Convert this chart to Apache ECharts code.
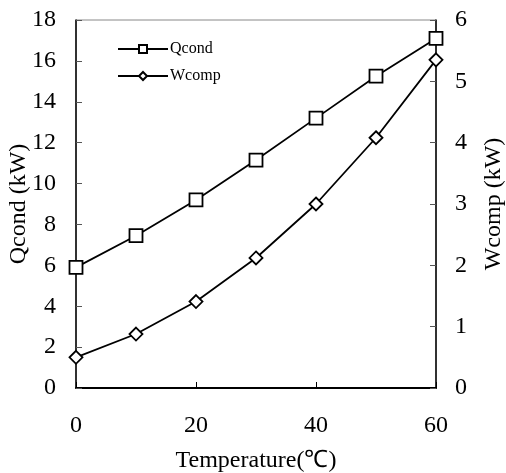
<!DOCTYPE html>
<html><head><meta charset="utf-8">
<script src="https://cdn.jsdelivr.net/npm/echarts@6/dist/echarts.min.js"></script>
<style>html,body{margin:0;padding:0;background:#fff}#c{width:506px;height:473px}</style>
</head><body><div id="c"></div>
<script>
const temps = [0, 10, 20, 30, 40, 50, 60];
const qcond = [5.9, 7.45, 9.2, 11.15, 13.2, 15.25, 17.1];
const wcomp = [0.5, 0.88, 1.41, 2.12, 3.0, 4.08, 5.35];
const seriesNames = ['Qcond', 'Wcomp'];
const font = 'Liberation Serif';
const chart = echarts.init(document.getElementById('c'), null, {renderer: 'canvas'});
chart.setOption({
  animation: false,
  backgroundColor: '#fff',
  grid: {left: 76, right: 70, top: 20, bottom: 85, show: true, borderColor: '#888', borderWidth: 1,
         containLabel: false, outerBoundsMode: 'none'},
  legend: {
    left: 112, top: 36, orient: 'vertical', itemWidth: 50, itemHeight: 10, itemGap: 11,
    data: seriesNames,
    textStyle: {fontFamily: font, fontSize: 16, color: '#000', padding: [0, 0, 0, -3]}
  },
  xAxis: {
    type: 'value', min: 0, max: 60, interval: 20,
    name: 'Temperature(℃)', nameLocation: 'middle', nameGap: 61, nameMoveOverlap: false,
    nameTextStyle: {fontFamily: font, fontSize: 24, color: '#000'},
    axisLine: {lineStyle: {color: '#000', width: 2}},
    axisTick: {inside: true, length: 6, lineStyle: {color: '#000'}},
    axisLabel: {margin: 26, fontFamily: font, fontSize: 24, color: '#000'},
    splitLine: {show: false}
  },
  yAxis: [{
    type: 'value', min: 0, max: 18, interval: 2, position: 'left',
    name: 'Qcond (kW)', nameLocation: 'middle', nameGap: 45, nameMoveOverlap: false,
    nameTextStyle: {fontFamily: font, fontSize: 24, color: '#000'},
    axisLine: {show: true, lineStyle: {color: '#000', width: 1.5}},
    axisTick: {show: true, inside: true, length: 6, lineStyle: {color: '#555'}},
    axisLabel: {margin: 20, fontFamily: font, fontSize: 24, color: '#000'},
    splitLine: {show: false}
  }, {
    type: 'value', min: 0, max: 6, interval: 1, position: 'right',
    name: 'Wcomp (kW)', nameLocation: 'middle', nameGap: 46, nameMoveOverlap: false,
    nameTextStyle: {fontFamily: font, fontSize: 24, color: '#000'},
    axisLine: {show: true, lineStyle: {color: '#000', width: 1.5}},
    axisTick: {show: true, inside: true, length: 6, lineStyle: {color: '#555'}},
    axisLabel: {margin: 19, fontFamily: font, fontSize: 24, color: '#000'},
    splitLine: {show: false}
  }],
  series: [{
    name: seriesNames[0], type: 'line', yAxisIndex: 0,
    data: temps.map((t, i) => [t, qcond[i]]),
    symbol: 'rect', symbolSize: 13,
    lineStyle: {color: '#000', width: 1.8},
    itemStyle: {color: '#fff', borderColor: '#000', borderWidth: 1.8}
  }, {
    name: seriesNames[1], type: 'line', yAxisIndex: 1,
    data: temps.map((t, i) => [t, wcomp[i]]),
    symbol: 'diamond', symbolSize: 13,
    lineStyle: {color: '#000', width: 1.8},
    itemStyle: {color: '#fff', borderColor: '#000', borderWidth: 1.8}
  }]
});
</script></body></html>
